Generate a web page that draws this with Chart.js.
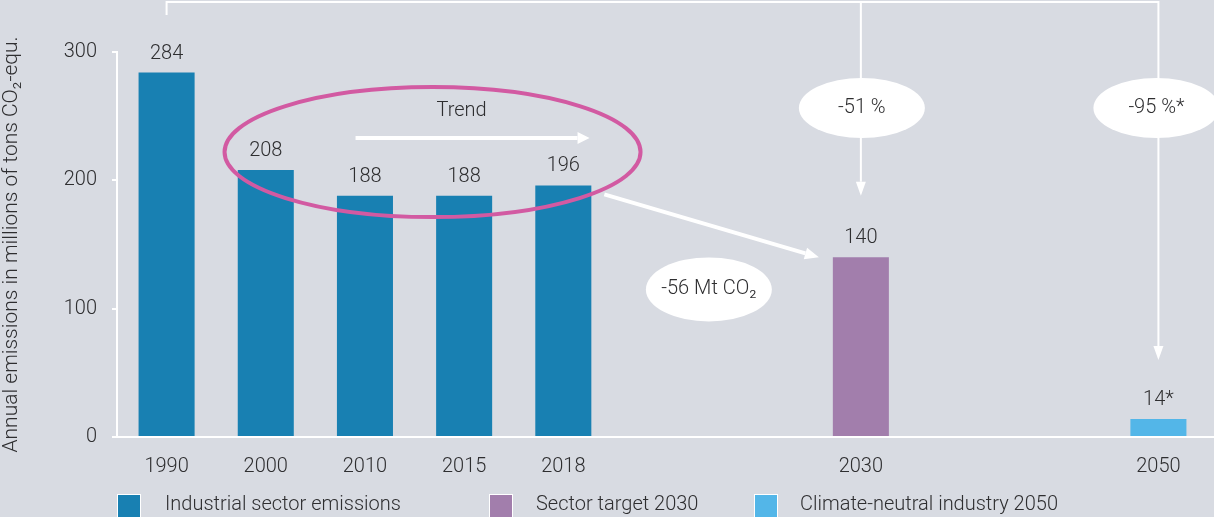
<!DOCTYPE html>
<html>
<head>
<meta charset="utf-8">
<script src="https://cdn.jsdelivr.net/npm/chart.js@4.4.1/dist/chart.umd.min.js"></script>
<style>
html, body { margin: 0; padding: 0; background: #d8dbe2; }
#wrap { width: 1214px; height: 517px; position: relative; }
</style>
</head>
<body>
<div id="wrap"><canvas id="emissionsChart"></canvas></div>
<script>
/*** Data ***/
const years = ['1990', '2000', '2010', '2015', '2018', '', '', '2030', '', '', '2050'];
const emissions = [284, 208, 188, 188, 196, null, null, 140, null, null, 14];
const valueLabels = ['284', '208', '188', '188', '196', '', '', '140', '', '', '14*'];
const barColors = ['#1880b2', '#1880b2', '#1880b2', '#1880b2', '#1880b2', '', '', '#a27eac', '', '', '#53b6e8'];
const legendLabels = ['Industrial sector emissions', 'Sector target 2030', 'Climate-neutral industry 2050'];
const legendColors = ['#1880b2', '#a27eac', '#53b6e8'];
const yTicks = [0, 100, 200, 300];

const FONT = 'Roboto';
const SIZE = 20;
const TEXT = '#2e2e30';

function arrow(ctx, x1, y1, x2, y2, width, headLen, headW) {
    const ang = Math.atan2(y2 - y1, x2 - x1);
    const bx = x2 - Math.cos(ang) * headLen;
    const by = y2 - Math.sin(ang) * headLen;
    ctx.lineWidth = width;
    ctx.beginPath();
    ctx.moveTo(x1, y1);
    ctx.lineTo(bx, by);
    ctx.stroke();
    ctx.beginPath();
    ctx.moveTo(x2, y2);
    ctx.lineTo(bx + Math.sin(ang) * headW, by - Math.cos(ang) * headW);
    ctx.lineTo(bx - Math.sin(ang) * headW, by + Math.cos(ang) * headW);
    ctx.closePath();
    ctx.fill();
}

function bubble(ctx, cx, cy, rx, ry, text) {
    ctx.fillStyle = '#ffffff';
    ctx.beginPath();
    ctx.ellipse(cx, cy, rx, ry, 0, 0, Math.PI * 2);
    ctx.fill();
    ctx.fillStyle = TEXT;
    ctx.fillText(text, cx, cy);
}

const annotations = {
    id: 'annotations',
    beforeDraw(chart) {
        const ctx = chart.ctx;
        ctx.save();
        ctx.fillStyle = '#d8dbe2';
        ctx.fillRect(0, 0, chart.width, chart.height);
        ctx.restore();
    },
    afterDatasetsDraw(chart) {
        const { ctx, scales: { x, y }, chartArea } = chart;
        ctx.save();
        ctx.font = '300 ' + SIZE + 'px ' + FONT;
        ctx.textAlign = 'center';
        ctx.textBaseline = 'middle';

        // value labels on bars
        chart.getDatasetMeta(0).data.forEach((bar, i) => {
            if (!valueLabels[i]) return;
            ctx.fillStyle = TEXT;
            ctx.fillText(valueLabels[i], bar.x, bar.y - 19);
        });

        // axis line runs to the edge
        ctx.strokeStyle = '#ffffff';
        ctx.lineWidth = 2;
        ctx.beginPath();
        ctx.moveTo(chartArea.right - 1, chartArea.bottom);
        ctx.lineTo(chart.width, chartArea.bottom);
        ctx.stroke();

        // bracket from 1990 to targets
        const x1990 = x.getPixelForValue(0);
        const x2030 = x.getPixelForValue(7);
        const x2050 = x.getPixelForValue(10);
        ctx.fillStyle = '#ffffff';
        ctx.beginPath();
        ctx.moveTo(x1990, 15);
        ctx.lineTo(x1990, 2);
        ctx.lineTo(x2050, 2);
        ctx.lineTo(x2050, 80);
        ctx.moveTo(x2030, 2);
        ctx.lineTo(x2030, 80);
        ctx.stroke();
        arrow(ctx, x2030, 136, x2030, y.getPixelForValue(188), 2, 14, 5);
        arrow(ctx, x2050, 136, x2050, y.getPixelForValue(60), 2, 14, 5);
        bubble(ctx, x2030 + 1, 108, 63, 30, '-51 %');
        bubble(ctx, x2050 - 2, 108, 63, 30, '-95 %*');

        // trend ellipse
        const cx = (x.getPixelForValue(1) + x.getPixelForValue(4)) / 2 + 18;
        const cy = y.getPixelForValue(222);
        ctx.strokeStyle = '#d25aa2';
        ctx.lineWidth = 4;
        ctx.beginPath();
        ctx.ellipse(cx, cy, 208, 65, 0, 0, Math.PI * 2);
        ctx.stroke();
        ctx.fillStyle = TEXT;
        ctx.fillText('Trend', cx + 29, cy - 41);
        ctx.strokeStyle = '#ffffff';
        ctx.fillStyle = '#ffffff';
        arrow(ctx, cx - 77, cy - 14, cx + 157, cy - 14, 4, 12, 6);

        // 2018 -> 2030 arrow
        arrow(ctx, x.getPixelForValue(4) + 41, y.getPixelForValue(189), x2030 - 42, y.getPixelForValue(140), 4, 14, 6);
        bubble(ctx, x2030 - 152, y.getPixelForValue(115), 63, 32, '-56 Mt CO\u2082');

        // legend
        ctx.textAlign = 'left';
        const boxX = [118, 490, 755];
        const textX = [165, 536, 800];
        legendLabels.forEach((label, i) => {
            ctx.fillStyle = '#ffffff';
            ctx.fillRect(boxX[i] - 1, 494, 24, 24);
            ctx.fillStyle = legendColors[i];
            ctx.fillRect(boxX[i], 495, 22, 22);
            ctx.fillStyle = TEXT;
            ctx.fillText(label, textX[i], 505);
        });
        ctx.restore();
    }
};

/*** Create graph ***/
const tickFont = { family: FONT, size: SIZE, weight: '300' };
const ctx = document.getElementById('emissionsChart').getContext('2d');
const emissionsChart = new Chart(ctx, {
    type: 'bar',
    data: {
        labels: years,
        datasets: [{
            label: 'Emissions',
            data: emissions,
            backgroundColor: barColors,
            barPercentage: 1,
            categoryPercentage: 0.565
        }]
    },
    options: {
        responsive: true,
        maintainAspectRatio: false,
        animation: false,
        layout: { padding: { top: 52, bottom: 40, left: 0, right: 6 } },
        plugins: {
            legend: { display: false },
            tooltip: { enabled: false }
        },
        scales: {
            x: {
                grid: { display: false, drawTicks: false },
                border: { color: '#ffffff', width: 2 },
                ticks: { color: TEXT, font: tickFont, padding: 18, maxRotation: 0, autoSkip: false },
                afterFit: s => { s.height = 40; }
            },
            y: {
                min: 0,
                max: 300,
                afterBuildTicks: s => { s.ticks = yTicks.map(v => ({ value: v })); },
                grid: { drawOnChartArea: false, color: '#ffffff', lineWidth: 2, tickLength: 5 },
                border: { color: '#ffffff', width: 2 },
                ticks: { color: TEXT, font: tickFont, padding: 15 },
                title: {
                    display: true,
                    text: 'Annual emissions in millions of tons CO\u2082-equ.',
                    color: TEXT,
                    font: { family: FONT, size: 21, weight: '300' },
                    padding: { top: -1, bottom: 0 }
                },
                afterFit: s => { s.width = 117; }
            }
        }
    },
    plugins: [annotations]
});
</script>
</body>
</html>
